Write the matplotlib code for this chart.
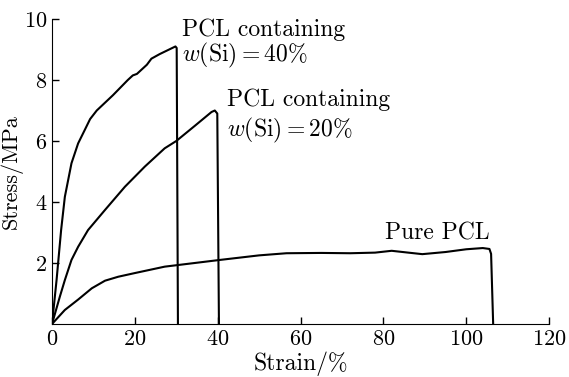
import matplotlib
matplotlib.use('Agg')
import matplotlib.pyplot as plt

# 数据
strain_40 = [0, 1.1, 2.2, 3.1, 3.9, 4.7, 6.3, 7.9, 9.2, 10.8, 14.7, 18.3, 19.5, 20.5,
             22.9, 24, 26, 29.8, 30.1, 30.4]
stress_40 = [0, 1.44, 3.08, 4.17, 4.72, 5.27, 5.92, 6.36, 6.72, 7.0, 7.5, 8.0, 8.15, 8.2,
             8.5, 8.7, 8.85, 9.1, 9.05, 0]

strain_20 = [0, 1.9, 3.1, 4.7, 6.3, 8.7, 12.8, 17.6, 22.4, 27.2, 30, 34.5, 38.5,
             39.3, 39.9, 40.3]
stress_20 = [0, 0.9, 1.44, 2.1, 2.53, 3.08, 3.74, 4.5, 5.16, 5.76, 6.0, 6.5, 6.95,
             7.0, 6.9, 0]

strain_pure = [0, 3.1, 6.3, 9.6, 12.8, 16, 20, 27.2, 40.5, 50, 56.6, 65, 72, 78,
               82, 86, 89.4, 95, 100, 104, 105.6, 106, 106.5]
stress_pure = [0, 0.46, 0.8, 1.17, 1.42, 1.55, 1.67, 1.88, 2.1, 2.25, 2.32, 2.33,
               2.32, 2.34, 2.40, 2.34, 2.29, 2.36, 2.45, 2.49, 2.46, 2.3, 0]

x_ticks = [0, 20, 40, 60, 80, 100, 120]
y_ticks = [2, 4, 6, 8, 10]

plt.rcParams['font.family'] = ['cmr10']
plt.rcParams['mathtext.fontset'] = 'cm'
plt.rcParams['axes.formatter.use_mathtext'] = True

fig = plt.figure(figsize=(5.69, 3.77), dpi=100)
ax = fig.add_axes([0.0914, 0.1406, 0.8736, 0.809])

lw = 1.5
ax.plot(strain_40, stress_40, color='black', lw=lw)
ax.plot(strain_20, stress_20, color='black', lw=lw)
ax.plot(strain_pure, stress_pure, color='black', lw=lw)

ax.set_xlim(0, 120)
ax.set_ylim(0, 10)
ax.set_xticks(x_ticks)
ax.set_yticks(y_ticks)
ax.spines['top'].set_visible(False)
ax.spines['right'].set_visible(False)
ax.tick_params(direction='in', length=5, width=1, labelsize=16)
ax.tick_params(axis='x', pad=4)
ax.set_xlabel('Strain/%', fontsize=17, labelpad=2)
ax.set_ylabel('Stress/MPa', fontsize=16)
ax.yaxis.set_label_coords(-0.058, 0.5)

fs = 17
ax.text(31.3, 9.64, 'PCL containing', fontsize=fs, va='center')
ax.text(31.3, 8.82, r'$w(\mathrm{Si})=40\%$', fontsize=fs, va='center')
ax.text(42.2, 7.34, 'PCL containing', fontsize=fs, va='center')
ax.text(42.2, 6.36, r'$w(\mathrm{Si})=20\%$', fontsize=fs, va='center')
ax.text(80.5, 2.98, 'Pure PCL', fontsize=fs, va='center')

fig.savefig('out.png', dpi=100)
